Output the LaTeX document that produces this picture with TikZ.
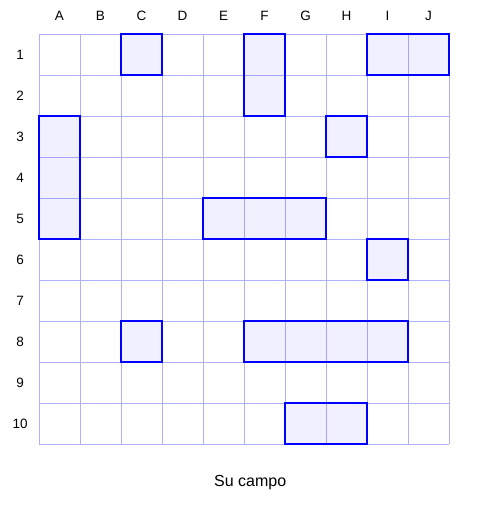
\documentclass[tikz,border=0pt]{standalone}
\usepackage{fontspec}
\setmainfont{Liberation Sans}
\definecolor{gridblue}{RGB}{176,176,255}
\definecolor{shipblue}{RGB}{0,0,255}
\usetikzlibrary{positioning}

\begin{document}
\begin{tikzpicture}[
  x=41pt, y=-41pt,
  font=\fontsize{13.5}{15}\selectfont,
  gridline/.style={draw=gridblue, line width=0.8pt},
  ship/.style={draw=shipblue, line width=2pt, fill=shipblue, fill opacity=0.06},
  lbl/.style={inner sep=0pt, anchor=center, text height=9.7pt, text depth=0pt}
]
\useasboundingbox (-39pt,34pt) rectangle (458pt,-493pt);

% grid
\foreach \k in {0,...,10} {
  \draw[gridline] (\k,0) -- (\k,10);
  \draw[gridline] (0,\k) -- (10,\k);
}

% column and row labels
\foreach \c [count=\i from 0] in {A,B,C,D,E,F,G,H,I,J}
  \node[lbl] (col\c) at (\i+0.5,-0.45) {\c};
\foreach \r [count=\i from 0] in {1,...,10}
  \node[lbl] (row\r) at (-0.46,\i+0.51) {\r};

% ships
\foreach \xa/\ya/\xb/\yb in {2/0/3/1, 5/0/6/2, 8/0/10/1, 0/2/1/5, 7/2/8/3,
                             4/4/7/5, 8/5/9/6, 2/7/3/8, 5/7/9/8, 6/9/8/10}
  \draw[ship] (\xa,\ya) rectangle (\xb,\yb);

\node[lbl, font=\fontsize{16}{18}\selectfont] (title) at (5.15,10.93) {Su campo};
\end{tikzpicture}
\end{document}
